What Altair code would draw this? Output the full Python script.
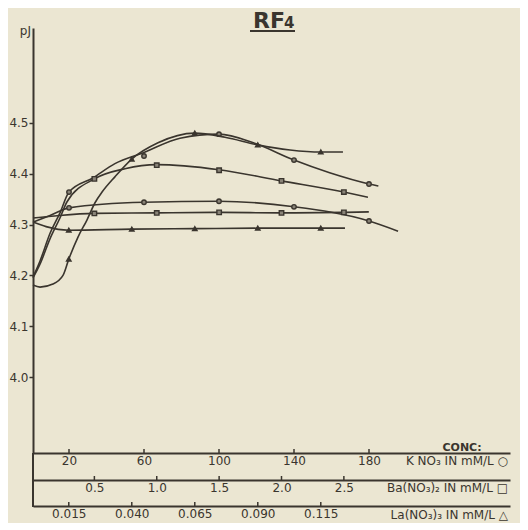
import altair as alt
import pandas as pd

INK = "#3a352e"
BG = "#ebe6d2"
FONT = "DejaVu Sans"

# ---------------- data ----------------
# KNO3 (mM/L) series, circles
kno3_rise_line_x = [0.8, 4.5, 9.9, 15.2, 20, 32.8, 44.5, 60, 79.2, 100, 119, 140, 159, 180, 185]
kno3_rise_line_y = [4.197, 4.228, 4.283, 4.323, 4.364, 4.392, 4.420, 4.442, 4.470, 4.478, 4.460, 4.427, 4.402, 4.380, 4.376]
kno3_rise_pts_x = [20, 60, 100, 140, 180]
kno3_rise_pts_y = [4.364, 4.435, 4.478, 4.427, 4.380]

kno3_flat_line_x = [0.8, 9.9, 20, 60, 100, 140, 180, 195.5]
kno3_flat_line_y = [4.305, 4.318, 4.333, 4.344, 4.346, 4.335, 4.307, 4.287]
kno3_flat_pts_x = [20, 60, 100, 140, 180]
kno3_flat_pts_y = [4.333, 4.344, 4.346, 4.335, 4.307]

# Ba(NO3)2 (mM/L) series, squares
ba_rise_line_x = [0.008, 0.064, 0.144, 0.224, 0.281, 0.5, 0.745, 1.0, 1.5, 2.0, 2.5, 2.693]
ba_rise_line_y = [4.195, 4.222, 4.272, 4.313, 4.345, 4.390, 4.410, 4.418, 4.408, 4.386, 4.364, 4.354]
ba_rise_pts_x = [0.5, 1.0, 1.5, 2.0, 2.5]
ba_rise_pts_y = [4.390, 4.417, 4.407, 4.386, 4.364]

ba_flat_line_x = [0.008, 0.22, 0.5, 1.0, 1.5, 2.0, 2.5, 2.7]
ba_flat_line_y = [4.313, 4.318, 4.322, 4.323, 4.324, 4.323, 4.324, 4.325]
ba_flat_pts_x = [0.5, 1.0, 1.5, 2.0, 2.5]
ba_flat_pts_y = [4.322, 4.323, 4.324, 4.323, 4.324]

# La(NO3)3 (mM/L) series, triangles
la_rise_line_x = [0.0008, 0.0036, 0.0087, 0.0127, 0.015, 0.0187, 0.0222, 0.0254, 0.0282,
                  0.0333, 0.040, 0.0504, 0.065, 0.077, 0.090, 0.1028, 0.115, 0.1238]
la_rise_line_y = [4.181, 4.177, 4.183, 4.200, 4.232, 4.276, 4.309, 4.343, 4.364,
                  4.394, 4.429, 4.461, 4.480, 4.472, 4.457, 4.447, 4.443, 4.443]
la_rise_pts_x = [0.015, 0.040, 0.065, 0.090, 0.115]
la_rise_pts_y = [4.232, 4.429, 4.480, 4.457, 4.443]

la_flat_line_x = [0.0008, 0.006, 0.015, 0.040, 0.065, 0.090, 0.115, 0.1246]
la_flat_line_y = [4.305, 4.296, 4.289, 4.291, 4.292, 4.293, 4.293, 4.293]
la_flat_pts_x = [0.015, 0.040, 0.065, 0.090, 0.115]
la_flat_pts_y = [4.289, 4.291, 4.292, 4.293, 4.293]

# axis ticks
y_ticks = [4.0, 4.1, 4.2, 4.3, 4.4, 4.5]
kno3_ticks = [20, 60, 100, 140, 180]
ba_ticks = [0.5, 1.0, 1.5, 2.0, 2.5]
la_ticks = [0.015, 0.040, 0.065, 0.090, 0.115]

title_main = "RF"
title_sub = "4"
y_label = "pJ"
conc_label = "CONC:"
kno3_label = "K NO₃   IN mM/L ○"
ba_label = "Ba(NO₃)₂  IN mM/L □"
la_label = "La(NO₃)₃  IN mM/L △"

# ---------------- layout ----------------
W, H = 477, 425
Y_DOMAIN = [3.8504, 4.687]

def df(xs, ys):
    return pd.DataFrame({"x": xs, "y": ys})

yenc = alt.Y("y:Q", scale=alt.Scale(domain=Y_DOMAIN, nice=False, zero=False),
             axis=alt.Axis(values=y_ticks, format=".1f", title=None, grid=False,
                           tickSize=4, tickWidth=1.5, tickColor=INK,
                           labelPadding=1, labelFont=FONT, labelFontSize=12,
                           labelColor=INK, domainColor=INK, domainWidth=2))

def xenc(domain, ticks, fmt, offset):
    return alt.X("x:Q", scale=alt.Scale(domain=domain, nice=False, zero=False),
                 axis=alt.Axis(orient="bottom", offset=offset, values=ticks, format=fmt,
                               title=None, grid=False, ticks=False, labelPadding=2,
                               labelFont=FONT, labelFontSize=12, labelColor=INK,
                               domainColor=INK, domainWidth=2))

def group(domain, ticks, fmt, offset, lines, pts, shape, fill):
    xe = xenc(domain, ticks, fmt, offset)
    layers = []
    for lx, ly in lines:
        layers.append(alt.Chart(df(lx, ly)).mark_line(
            interpolate="monotone", color=INK, strokeWidth=1.6).encode(x=xe, y=yenc))
    for px, py in pts:
        layers.append(alt.Chart(df(px, py)).mark_point(
            shape=shape, size=20, filled=True, fill=fill, stroke=INK,
            strokeWidth=1.4, opacity=1).encode(x=xe, y=yenc))
    tick_df = pd.DataFrame({"x": ticks})
    layers.append(alt.Chart(tick_df).mark_rule(color=INK, strokeWidth=1.5).encode(
        x=xe, y=alt.value(H + offset - 4), y2=alt.value(H + offset)))
    return alt.layer(*layers)

g_k = group([0.8, 0.8 + W / 1.875], kno3_ticks, "d", 0,
            [(kno3_rise_line_x, kno3_rise_line_y), (kno3_flat_line_x, kno3_flat_line_y)],
            [(kno3_rise_pts_x, kno3_rise_pts_y), (kno3_flat_pts_x, kno3_flat_pts_y)],
            "circle", "#8a8478")
g_b = group([0.008, 0.008 + W / 124.75], ba_ticks, ".1f", 27,
            [(ba_rise_line_x, ba_rise_line_y), (ba_flat_line_x, ba_flat_line_y)],
            [(ba_rise_pts_x, ba_rise_pts_y), (ba_flat_pts_x, ba_flat_pts_y)],
            "square", "#8a8478")
g_l = group([0.0008, 0.0008 + W / 2520], la_ticks, ".3f", 53,
            [(la_rise_line_x, la_rise_line_y), (la_flat_line_x, la_flat_line_y)],
            [(la_rise_pts_x, la_rise_pts_y), (la_flat_pts_x, la_flat_pts_y)],
            "triangle-up", INK)

one = pd.DataFrame({"t": [""]})

def label(text, x, y, size=11, align="left", weight="normal"):
    return alt.Chart(pd.DataFrame({"t": [text]})).mark_text(
        font=FONT, fontSize=size, color=INK, align=align, baseline="alphabetic",
        fontWeight=weight).encode(text="t:N", x=alt.value(x), y=alt.value(y))

decor = [
    label(title_main, 220, 0, size=22, weight="bold"),
    label(title_sub, 251, 0, size=15, weight="bold"),
    alt.Chart(one).mark_rule(color=INK, strokeWidth=2).encode(
        x=alt.value(217), x2=alt.value(262), y=alt.value(3)),
    label(y_label, -2, 7, size=12, align="right"),
    label(conc_label, 429, 423, size=11, align="center", weight="bold"),
    label(kno3_label, 475, 437, size=12, align="right"),
    label(ba_label, 475, 464, size=12, align="right"),
    label(la_label, 475, 491, size=12, align="right"),
    alt.Chart(one).mark_rule(color=INK, strokeWidth=2).encode(
        x=alt.value(0), y=alt.value(H), y2=alt.value(H + 54)),
]

chart = alt.layer(g_k, g_b, g_l, *decor).resolve_scale(x="independent").properties(
    width=W, height=H,
    padding={"left": 25, "top": 20, "right": 10, "bottom": 70},
    autosize=alt.AutoSizeParams(type="none"),
    background=BG,
).configure_view(strokeWidth=0)

chart.save("out.html", embed_options={"renderer": "svg", "actions": False})
